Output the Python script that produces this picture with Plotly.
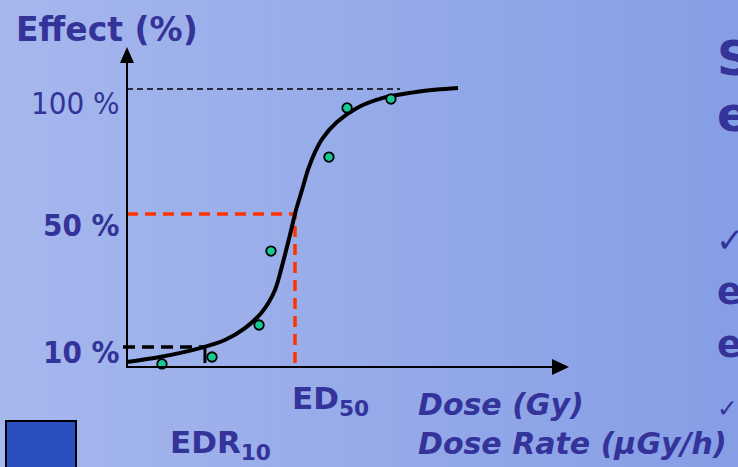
import plotly.graph_objects as go
import numpy as np

# ---------------- data ----------------
# dose axis (arbitrary dose units, ED50 = 10) and effect axis (schematic plot units)
curve_dose = [0.0, 1.96, 4.35, 5.83, 7.02, 8.04, 8.81, 9.29, 9.70, 10.06, 10.42,
              10.77, 11.19, 11.61, 12.50, 13.69, 15.24, 16.85, 18.45, 19.70]
curve_effect = [1.8, 3.6, 6.8, 9.7, 14.0, 19.8, 27.7, 37.8, 47.5, 56.5, 63.7,
                70.9, 77.3, 82.0, 88.1, 93.2, 96.8, 98.6, 99.8, 100.4]

obs_dose = [2.08, 5.06, 7.86, 8.57, 12.02, 13.10, 15.71]
obs_effect = [1.1, 3.6, 15.1, 41.7, 75.5, 93.2, 96.4]

tick_vals = [100, 55.0, 7.2]
tick_text = ["100 %", "<b>50 %</b>", "<b>10 %</b>"]

ED50 = 10.0
EFFECT50 = 55.0
EDR10 = 4.64
EFFECT10 = 7.2
EFFECT100 = 100
LINE100_END = 16.25

# ---------------- geometry helpers (pixel -> data) ----------------
W, H = 738, 467
X0PX, XS = 127, 16.8     # dose 0 at pixel 127, 16.8 px per dose unit
Y0PX, YS = 367, 2.78     # effect 0 at pixel 367, 2.78 px per unit

def dx(px):
    return (px - X0PX) / XS

def dy(py):
    return (Y0PX - py) / YS

def fx(px):
    return px / W

def fy(py):
    return 1 - py / H

TXT = "#333399"
FONT = "DejaVu Sans, Verdana, sans-serif"
FONT_C = "DejaVu Sans Condensed, DejaVu Sans, sans-serif"

fig = go.Figure()

# reference dashed lines
fig.add_trace(go.Scatter(x=[0, LINE100_END], y=[EFFECT100, EFFECT100], mode="lines",
                         line=dict(color="black", width=1.6, dash="6px,4px"),
                         hoverinfo="skip", showlegend=False))
fig.add_trace(go.Scatter(x=[0, ED50, ED50], y=[EFFECT50, EFFECT50, 0], mode="lines",
                         line=dict(color="#ff3300", width=3.5, dash="11px,7px"),
                         hoverinfo="skip", showlegend=False))
fig.add_trace(go.Scatter(x=[dx(123), EDR10], y=[EFFECT10, EFFECT10], mode="lines",
                         line=dict(color="black", width=3.5, dash="12px,7px"),
                         hoverinfo="skip", showlegend=False))
fig.add_trace(go.Scatter(x=[EDR10, EDR10], y=[EFFECT10, dy(363)], mode="lines",
                         line=dict(color="black", width=3),
                         hoverinfo="skip", showlegend=False))

# fitted curve
fig.add_trace(go.Scatter(x=curve_dose, y=curve_effect, mode="lines",
                         line=dict(color="black", width=4, shape="spline", smoothing=0.8),
                         hoverinfo="skip", showlegend=False))
# observations
fig.add_trace(go.Scatter(x=obs_dose, y=obs_effect, mode="markers",
                         marker=dict(color="#19c893", size=9.5,
                                     line=dict(color="black", width=1.8)),
                         showlegend=False))

shapes = []
# background gradient strips
c0 = np.array([166, 183, 237])
c1 = np.array([134, 158, 230])
N = 60
for i in range(N):
    t = i / (N - 1)
    c = (c0 + (c1 - c0) * t).round().astype(int)
    shapes.append(dict(type="rect", xref="paper", yref="paper",
                       x0=i / N, x1=(i + 1) / N + 0.002, y0=0, y1=1,
                       fillcolor=f"rgb({c[0]},{c[1]},{c[2]})", line=dict(width=0),
                       layer="below"))
# axes with arrow heads
shapes.append(dict(type="line", xref="x", yref="y", x0=0, x1=0, y0=dy(Y0PX + 1), y1=dy(60),
                   line=dict(color="black", width=2)))
shapes.append(dict(type="path", xref="x", yref="y",
                   path=f"M {dx(127)} {dy(47)} L {dx(120)} {dy(63)} L {dx(134)} {dy(63)} Z",
                   fillcolor="black", line=dict(width=0)))
shapes.append(dict(type="line", xref="x", yref="y", x0=dx(126), x1=dx(556), y0=0, y1=0,
                   line=dict(color="black", width=2)))
shapes.append(dict(type="path", xref="x", yref="y",
                   path=f"M {dx(569)} {dy(367)} L {dx(552)} {dy(359)} L {dx(552)} {dy(375)} Z",
                   fillcolor="black", line=dict(width=0)))
# blue square
shapes.append(dict(type="rect", xref="paper", yref="paper",
                   x0=fx(6), x1=fx(76), y0=fy(472), y1=fy(421),
                   fillcolor="#2a4fbf", line=dict(color="black", width=2)))

ann = []
def text(x, y, s, size, anchor="left", bold=False, italic=False, color=TXT,
         yanchor="middle", family=FONT):
    if bold:
        s = f"<b>{s}</b>"
    if italic:
        s = f"<i>{s}</i>"
    ann.append(dict(x=fx(x), y=fy(y), xref="paper", yref="paper", text=s, showarrow=False,
                    xanchor=anchor, yanchor=yanchor,
                    font=dict(family=family, size=size, color=color)))

text(14, 29, "Effect (%)", 33, bold=True)
# tick labels
tick_shift = {100: 14, 55.0: 11, 7.2: 5}
for v, t in zip(tick_vals, tick_text):
    ann.append(dict(x=fx(122), y=fy(Y0PX - v * YS + tick_shift[v]), xref="paper", yref="paper",
                    text=t, showarrow=False, xanchor="right", yanchor="middle",
                    font=dict(family=FONT_C, size=31, color=TXT)))

text(290, 400, "ED<sub>50</sub>", 31, bold=True)
text(168, 444, "EDR<sub>10</sub>", 31, bold=True)
text(416, 404, "Dose (Gy)", 30, bold=True, italic=True)
text(416, 443, "Dose Rate (μGy/h)", 30, bold=True, italic=True)

# clipped text at right edge
text(715, 58, "S", 48, bold=True)
text(715, 114, "e", 48, bold=True)
text(714, 240, "✓", 34)
text(715, 291, "e", 37, bold=True)
text(715, 344, "e", 37, bold=True)
text(715, 408, "✓", 25)

fig.update_layout(
    width=W, height=H, margin=dict(l=0, r=0, t=0, b=0),
    paper_bgcolor="rgb(150,170,233)", plot_bgcolor="rgba(0,0,0,0)",
    xaxis=dict(range=[dx(0), dx(W)], visible=False, fixedrange=True),
    yaxis=dict(range=[dy(H), dy(0)], visible=False, fixedrange=True),
    shapes=shapes, annotations=ann, showlegend=False,
)

fig.write_html("out.html", config={"displayModeBar": False},
               post_script="document.body.style.margin='0';document.body.style.padding='0';document.body.style.overflow='hidden';")
